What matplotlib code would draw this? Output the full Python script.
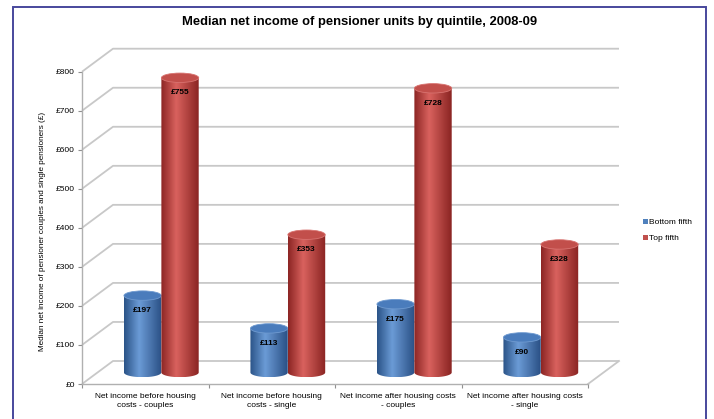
import numpy as np
import matplotlib
matplotlib.use('Agg')
import matplotlib.pyplot as plt
from matplotlib.patches import Ellipse, Rectangle, Patch, PathPatch
from matplotlib.path import Path
from matplotlib.colors import LinearSegmentedColormap

plt.rcParams['font.family'] = ['Liberation Sans', 'DejaVu Sans']

categories = ['Net income before housing\ncosts - couples',
              'Net income before housing\ncosts - single',
              'Net income after housing costs\n- couples',
              'Net income after housing costs\n- single']
bottom_fifth = [197, 113, 175, 90]
top_fifth = [755, 353, 728, 328]
series_names = ['Bottom fifth', 'Top fifth']
y_ticks = [0, 100, 200, 300, 400, 500, 600, 700, 800]

W, H = 714, 419
fig = plt.figure(figsize=(W / 100, H / 100), dpi=100)
fig.patch.set_facecolor('white')

# front plane of the 3d box
ax = fig.add_axes([82 / W, 35 / H, 506 / W, 312.3 / H])
ax.set_xlim(0, 4)
ax.set_ylim(0, 800)
ax.patch.set_alpha(0)

px_y = 312.3 / 800          # pixels per £
depth_x = 31 / 126.5        # depth offset in category units
depth_y = 23 / px_y         # depth offset in £
grid_col = '#c8c8c8'

# walls: slanted + horizontal gridlines
for v in y_ticks:
    ax.plot([0, depth_x, 4 + depth_x], [v, v + depth_y, v + depth_y],
            color=grid_col, lw=1.3, clip_on=False, zorder=1,
            solid_capstyle='butt')
# right edge of the floor
ax.plot([4, 4 + depth_x], [0, depth_y], color=grid_col, lw=1.3,
        clip_on=False, zorder=1)

for side in ['top', 'right']:
    ax.spines[side].set_visible(False)
for side in ['left', 'bottom']:
    ax.spines[side].set_color('#b0b0b0')
    ax.spines[side].set_linewidth(1.0)

ax.set_yticks(y_ticks)
ax.set_yticklabels([f'£{v}' for v in y_ticks])
ax.set_xticks([0, 1, 2, 3, 4])
ax.set_xticklabels([])
ax.tick_params(axis='both', colors='#909090', length=3, width=0.8,
               labelsize=6, labelcolor='black', pad=2)

blue_cmap = LinearSegmentedColormap.from_list(
    'blue_cyl', [(0, '#2b5488'), (0.4, '#6b9bd6'), (1, '#2a5085')])
red_cmap = LinearSegmentedColormap.from_list(
    'red_cyl', [(0, '#8c2624'), (0.4, '#d9625e'), (1, '#8a2422')])

bar_w = 0.295
ry = 4.7 / px_y
base = depth_y / 2


def cylinder(x0, value, cmap, top_face, top_edge, z):
    x1 = x0 + bar_w
    xc = (x0 + x1) / 2
    top = base + value
    t = np.linspace(np.pi, 2 * np.pi, 40)
    arc_x = xc + (bar_w / 2) * np.cos(t)
    arc_y = base + ry * np.sin(t)
    verts = [(x0, top)] + list(zip(arc_x, arc_y)) + [(x1, top), (x0, top)]
    body = PathPatch(Path(verts), facecolor='none', edgecolor='none')
    ax.add_patch(body)
    grad = np.linspace(0, 1, 64).reshape(1, -1)
    im = ax.imshow(grad, cmap=cmap, aspect='auto', zorder=z,
                   extent=[x0, x1, base - ry, top], interpolation='bilinear')
    im.set_clip_path(body)
    ax.add_patch(Ellipse((xc, top), bar_w, 2 * ry, facecolor=top_face,
                         edgecolor=top_edge, lw=0.6, zorder=z + 0.1))
    ax.text(xc, top - 38, f'£{value}', ha='center', va='center',
            fontsize=6, fontweight='bold', zorder=z + 0.2)


for i in range(len(categories)):
    cylinder(i + 0.209 + depth_x / 2, bottom_fifth[i], blue_cmap,
             '#4a7cbc', '#6f9ad0', 3)
    cylinder(i + 0.505 + depth_x / 2, top_fifth[i], red_cmap,
             '#c24f4b', '#d87370', 4)

for i, lab in enumerate(categories):
    ax.text(i + 0.5, -24, lab, ha='center', va='top', fontsize=6,
            linespacing=1.25)

ax.set_xlim(0, 4)
ax.set_ylim(0, 800)

fig.text(360 / W, 1 - 22 / H,
         'Median net income of pensioner units by quintile, 2008-09',
         ha='center', va='center', fontsize=9.4, fontweight='bold')
fig.text(43 / W, 1 - 231 / H,
         'Median net income of pensioner couples and single pensioners (£)',
         ha='center', va='center', rotation=90, fontsize=5.9)

handles = [Patch(facecolor='#4f81bd'), Patch(facecolor='#c0504d')]
fig.legend(handles, series_names, loc='center left',
           bbox_to_anchor=(639 / W, 1 - 230.5 / H), frameon=False,
           fontsize=6, handlelength=0.55, handleheight=0.55,
           handletextpad=0.2, labelspacing=1.0, borderpad=0)

fig.patches.append(Rectangle((13 / W, -0.02), (705.5 - 13) / W,
                             1.02 - 7.5 / H, transform=fig.transFigure,
                             fill=False, edgecolor='#48489c', lw=1.4))

fig.savefig('out.png', dpi=100)
